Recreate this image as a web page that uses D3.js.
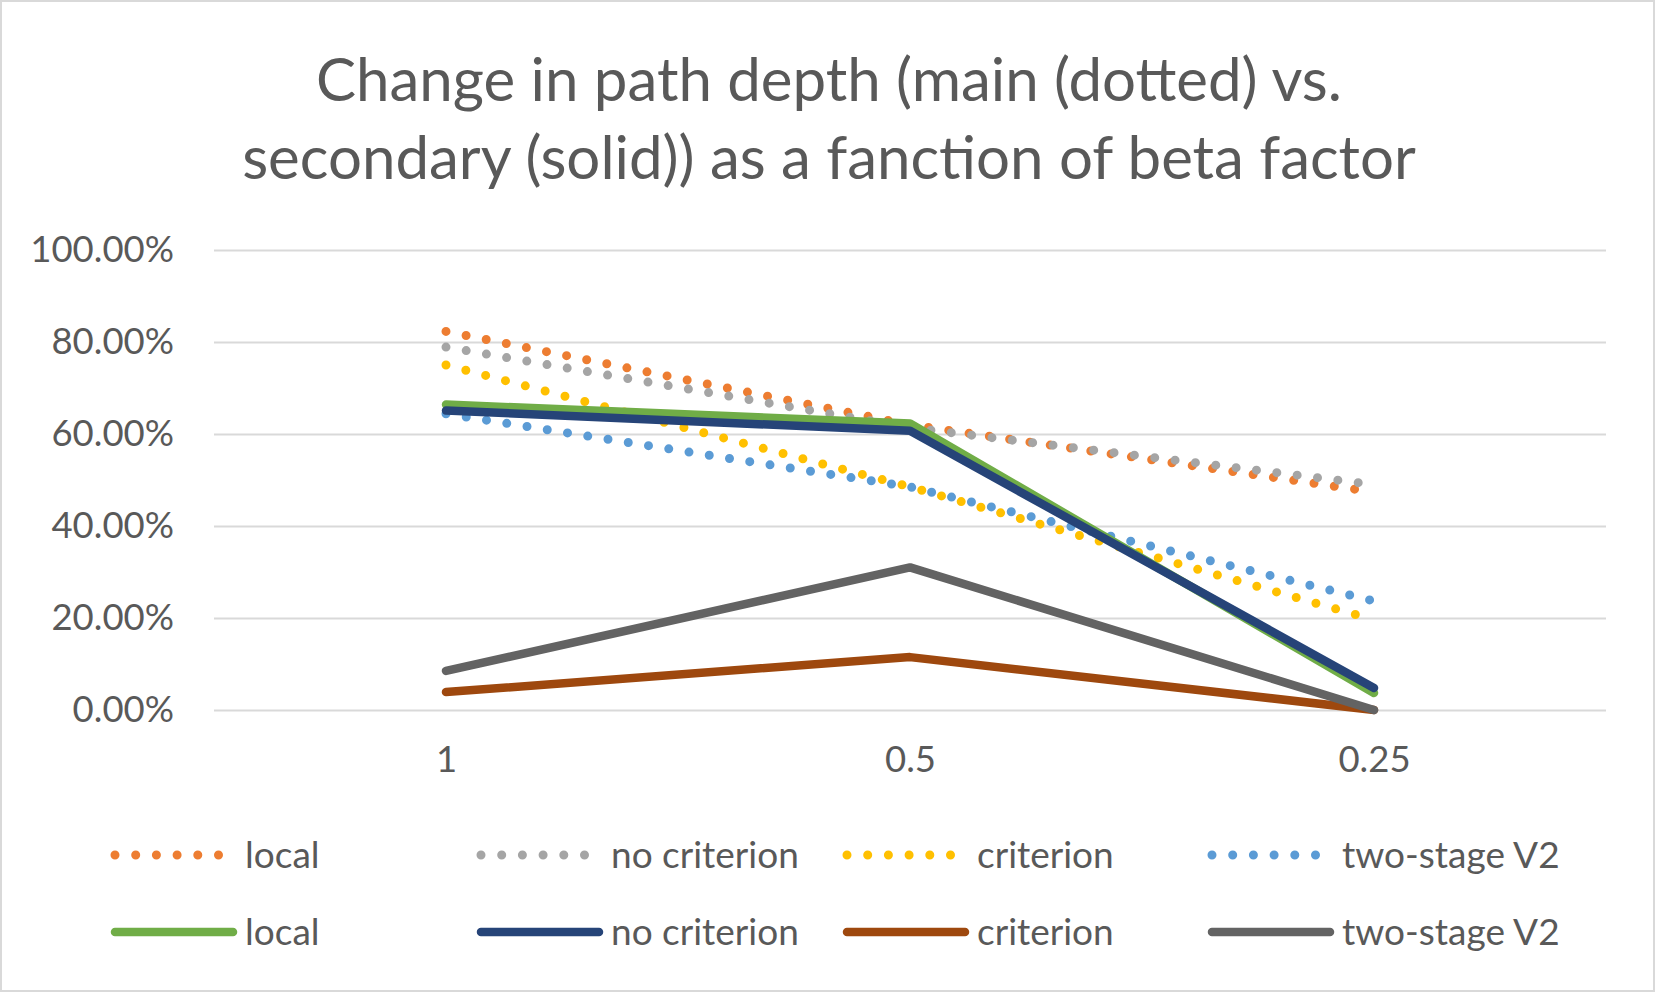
<!DOCTYPE html>
<html>
<head>
<meta charset="utf-8">
<script src="https://cdn.jsdelivr.net/npm/d3@7"></script>
<style>
  body { margin: 0; background: #fff; }
  text { font-family: Lato, "Open Sans", sans-serif; fill: #595959; }
</style>
</head>
<body>
<div id="chart"></div>
<script>
// categories (beta factor) and values
let categories = ["1", "0.5", "0.25"];
let yTicks = [0, 0.2, 0.4, 0.6, 0.8, 1.0];

let mainLocal = [0.823, 0.62, 0.474];
let mainNoCriterion = [0.789, 0.614, 0.49];
let mainCriterion = [0.75, 0.485, 0.196];
let mainTwoStage = [0.644, 0.485, 0.237];

let secLocal = [0.664, 0.623, 0.037];
let secNoCriterion = [0.651, 0.607, 0.048];
let secCriterion = [0.039, 0.115, 0.0];
let secTwoStage = [0.085, 0.31, 0.0];

let seriesNames = ["local", "no criterion", "criterion", "two-stage V2"];
let mainColors = ["#ED7D31", "#A5A5A5", "#FFC000", "#5B9BD5"];
let secColors = ["#70AD47", "#264478", "#9E480E", "#636363"];

let titleLines = ["Change in path depth (main (dotted) vs.", "secondary (solid)) as a fanction of beta factor"];

let dim = { width: 1659, height: 995 };
let margin = { top: 250, right: 53, bottom: 285, left: 214 };

let svg = d3.select("#chart").append("svg")
    .attr("width", dim.width)
    .attr("height", dim.height);

svg.append("rect")
    .attr("x", 1).attr("y", 1)
    .attr("width", dim.width - 6).attr("height", dim.height - 5)
    .attr("fill", "#fff")
    .attr("stroke", "#D9D9D9")
    .attr("stroke-width", 2);

let scaleX = d3.scalePoint()
    .domain(categories)
    .range([margin.left, dim.width - margin.right])
    .padding(0.5);

let scaleY = d3.scaleLinear()
    .domain([0, 1])
    .range([dim.height - margin.bottom, margin.top]);

// title
svg.append("g").selectAll("text")
    .data(titleLines)
    .join("text")
    .attr("x", 829)
    .attr("y", (d, i) => 101 + i * 78)
    .attr("text-anchor", "middle")
    .attr("font-size", 60)
    .text(d => d);

// gridlines
let grid = svg.append("g")
    .attr("transform", `translate(${margin.left},0)`)
    .call(d3.axisLeft(scaleY).tickValues(yTicks)
        .tickSize(-(dim.width - margin.left - margin.right))
        .tickFormat(""));
grid.select(".domain").remove();
grid.selectAll("line").attr("stroke", "#D9D9D9").attr("stroke-width", 2);

// y axis labels
let axisY = svg.append("g")
    .attr("transform", `translate(${margin.left - 37},0)`)
    .call(d3.axisLeft(scaleY).tickValues(yTicks).tickSize(0).tickFormat(d3.format(".2%")));
axisY.select(".domain").remove();
axisY.selectAll("text")
    .attr("font-size", 36.5)
    .attr("font-family", "Lato, sans-serif")
    .attr("fill", "#595959");

// x axis labels
let axisX = svg.append("g")
    .attr("transform", `translate(0,${dim.height - margin.bottom})`)
    .call(d3.axisBottom(scaleX).tickSize(0).tickPadding(36));
axisX.select(".domain").remove();
axisX.selectAll("text")
    .attr("font-size", 36.5)
    .attr("font-family", "Lato, sans-serif")
    .attr("fill", "#595959");

let line = d3.line()
    .x((d, i) => scaleX(categories[i]))
    .y(d => scaleY(d));

let mainSeries = [mainLocal, mainNoCriterion, mainCriterion, mainTwoStage];
let secSeries = [secLocal, secNoCriterion, secCriterion, secTwoStage];

svg.append("g").selectAll("path")
    .data(mainSeries)
    .join("path")
    .attr("d", d => line(d))
    .attr("fill", "none")
    .attr("stroke", (d, i) => mainColors[i])
    .attr("stroke-width", 9)
    .attr("stroke-linecap", "round")
    .attr("stroke-dasharray", "0 20.5");

svg.append("g").selectAll("path")
    .data(secSeries)
    .join("path")
    .attr("d", d => line(d))
    .attr("fill", "none")
    .attr("stroke", (d, i) => secColors[i])
    .attr("stroke-width", 8.5)
    .attr("stroke-linejoin", "round")
    .attr("stroke-linecap", "round");

// legend
let legendX = [111, 477, 843, 1208];
let legendRows = [
    { y: 855, colors: mainColors, dotted: true },
    { y: 932, colors: secColors, dotted: false }
];

legendRows.forEach(row => {
    let g = svg.append("g");
    seriesNames.forEach((name, i) => {
        let x0 = legendX[i];
        g.append("line")
            .attr("x1", x0 + 4)
            .attr("x2", row.dotted ? x0 + 112 : x0 + 122)
            .attr("y1", row.y).attr("y2", row.y)
            .attr("stroke", row.colors[i])
            .attr("stroke-width", row.dotted ? 9 : 8.5)
            .attr("stroke-linecap", "round")
            .attr("stroke-dasharray", row.dotted ? "0 20.7" : null);
        g.append("text")
            .attr("x", x0 + 134)
            .attr("y", row.y)
            .attr("dy", "0.35em")
            .attr("font-size", 37)
            .text(name);
    });
});
</script>
</body>
</html>
